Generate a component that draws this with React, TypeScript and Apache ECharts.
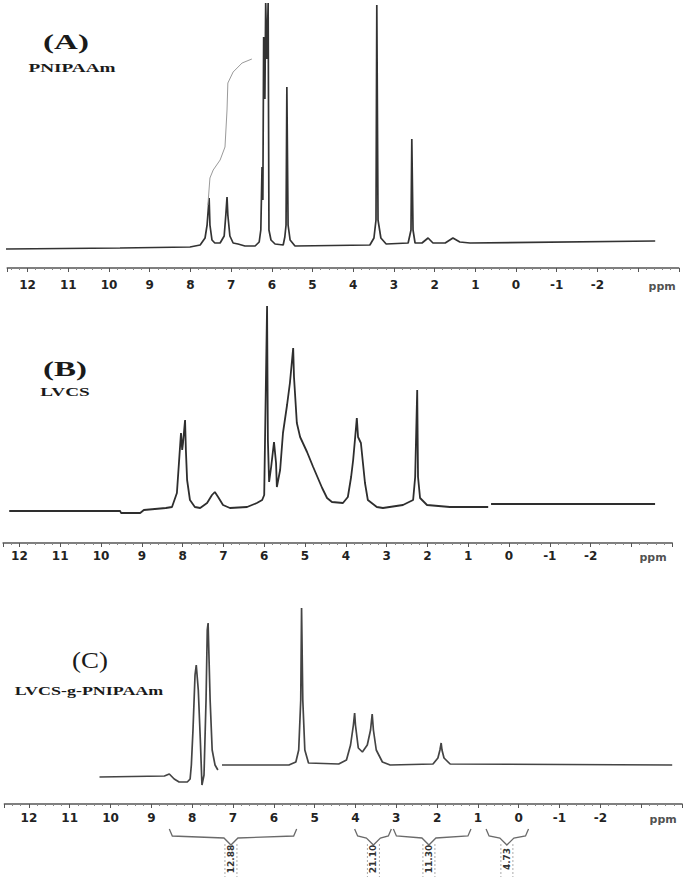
import React, { useEffect, useRef } from 'react';
import * as echarts from 'echarts';

// ---------- DATA (ppm, intensity above baseline) ----------
// (A) PNIPAAm
const specA: [number, number][] = [
  [12.55, 0], [9.73, 1], [8.01, 2], [7.76, 4], [7.64, 11], [7.59, 24], [7.54, 51], [7.52, 24], [7.47, 9],
  [7.40, 6], [7.27, 6], [7.17, 13], [7.13, 34], [7.10, 52], [7.08, 34], [7.03, 13], [6.95, 6], [6.83, 5],
  [6.66, 3], [6.41, 3], [6.31, 7], [6.27, 19], [6.24, 82], [6.22, 49], [6.20, 212], [6.17, 150], [6.15, 246],
  [6.12, 190], [6.09, 246], [6.07, 19], [6.02, 9], [5.92, 5], [5.72, 4], [5.68, 12], [5.65, 24], [5.63, 162],
  [5.60, 24], [5.55, 9], [5.43, 3], [3.59, 4], [3.49, 11], [3.44, 29], [3.42, 244], [3.39, 29], [3.32, 11],
  [3.19, 5], [2.65, 6], [2.58, 19], [2.56, 110], [2.53, 19], [2.48, 6], [2.31, 6], [2.16, 11], [2.04, 6],
  [1.74, 6], [1.55, 11], [1.38, 7], [1.13, 6], [-3.42, 8],
];
// (A) integration trace
const integA: [number, number][] = [
  [7.57, 44], [7.52, 71], [7.44, 79], [7.27, 89], [7.15, 102], [7.10, 139], [7.08, 166], [6.95, 177],
  [6.73, 186], [6.49, 190],
];
// (B) LVCS
const specB: ([number, number] | [number, string])[] = [
  [12.25, -1], [9.53, -1], [9.51, -3], [9.04, -3], [8.95, 0], [8.41, 2], [8.26, 3], [8.14, 17], [8.09, 47],
  [8.04, 77], [8.01, 60], [7.99, 67], [7.94, 90], [7.92, 60], [7.89, 30], [7.82, 10], [7.70, 3], [7.57, 2],
  [7.40, 7], [7.28, 15], [7.21, 18], [7.13, 13], [7.01, 5], [6.84, 2], [6.42, 3], [6.30, 5], [6.18, 7],
  [6.05, 10], [6.00, 15], [5.98, 70], [5.93, 204], [5.91, 70], [5.88, 28], [5.83, 43], [5.76, 68], [5.71, 47],
  [5.69, 23], [5.61, 40], [5.54, 77], [5.44, 105], [5.37, 127], [5.29, 162], [5.27, 133], [5.20, 87],
  [5.12, 73], [4.95, 58], [4.80, 43], [4.58, 22], [4.46, 12], [4.34, 8], [4.07, 7], [3.95, 13], [3.87, 33],
  [3.82, 50], [3.77, 73], [3.73, 92], [3.70, 73], [3.63, 67], [3.58, 47], [3.53, 27], [3.46, 10], [3.24, 3],
  [3.09, 2], [2.60, 5], [2.35, 10], [2.30, 33], [2.25, 120], [2.23, 33], [2.18, 12], [2.01, 5], [1.45, 3],
  [0.51, 3], [0.48, '-'], [0.44, 6], [-3.58, 6],
];
// (C) LVCS-g-PNIPAAm
const specC: ([number, number] | [number, string])[] = [
  [10.27, -12], [8.68, -11], [8.56, -9], [8.44, -14], [8.32, -17], [8.12, -17], [8.05, -14], [8.02, 0],
  [7.98, 35], [7.93, 90], [7.90, 100], [7.85, 75], [7.80, 25], [7.76, -20], [7.71, -10], [7.66, 65],
  [7.63, 135], [7.61, 142], [7.56, 65], [7.51, 15], [7.44, 0], [7.37, -5], [7.32, '-'], [7.27, 0],
  [5.63, 0], [5.46, 3], [5.39, 15], [5.34, 65], [5.32, 157], [5.29, 65], [5.24, 15], [5.15, 2], [4.41, 1],
  [4.22, 5], [4.12, 20], [4.05, 40], [4.02, 52], [4.00, 40], [3.93, 17], [3.83, 13], [3.71, 20], [3.63, 35],
  [3.59, 51], [3.56, 35], [3.49, 15], [3.34, 3], [3.15, 0], [2.10, 1], [1.98, 7], [1.93, 15], [1.90, 22],
  [1.88, 15], [1.83, 7], [1.68, 1], [-3.76, 0],
];
// integration brackets (C): [start ppm, end ppm, centre ppm, value]
const integC: [number, number, number, number][] = [
  [8.56, 5.44, 7.05, 12.88],
  [4.02, 3.12, 3.56, 21.10],
  [3.07, 1.17, 2.2, 11.30],
  [0.8, -0.24, 0.29, 4.73],
];
const tickLabels = ['12', '11', '10', '9', '8', '7', '6', '5', '4', '3', '2', '1', '0', '-1', '-2'];
const unitLabel = 'ppm';
const panelTags = ['(A)', '(B)', '(C)'];
const sampleNames = ['PNIPAAm', 'LVCS', 'LVCS-g-PNIPAAm'];

// ---------- layout ----------
const panels = [
  { left: 7.25, right: 6.2, top: 0, height: 250, xmin: -4, xmax: 12.5, ymin: -1, ymax: 249, offset: 18, margin: 11, color: '#333', unit: [-3.59, -37] },
  { left: 3.1, right: 12.8, top: 290, height: 230, xmin: -4, xmax: 12.4, ymin: -10, ymax: 220, offset: 23, margin: 7, color: '#2e2e2e', unit: [-3.53, -47] },
  { left: 4.4, right: 0, top: 590, height: 200, xmin: -4, xmax: 12.6, ymin: -25, ymax: 175, offset: 14, margin: 8, color: '#444', unit: [-3.54, -54] },
];

const serif = '"Liberation Serif", "DejaVu Serif", serif';
const sans = '"DejaVu Sans", "Liberation Sans", sans-serif';

export default function App() {
  const ref = useRef<HTMLDivElement>(null);
  useEffect(() => {
    if (!ref.current) return;
    const chart = echarts.init(ref.current, null, { renderer: 'svg' });

    const grid = panels.map((p) => ({ left: p.left, right: p.right, top: p.top, height: p.height }));
    const xAxis = panels.map((p, i) => ({
      type: 'value', gridIndex: i, inverse: true, min: p.xmin, max: p.xmax, interval: 1,
      position: 'bottom', offset: p.offset,
      axisLine: { show: true, onZero: false, lineStyle: { color: '#555', width: 1.6 } },
      axisTick: { show: true, length: 4, lineStyle: { color: '#555', width: 1 } },
      minorTick: { show: true, splitNumber: 5, length: 2, lineStyle: { color: '#888', width: 1 } },
      splitLine: { show: false },
      minorSplitLine: { show: false },
      axisLabel: {
        margin: p.margin, fontFamily: sans, fontWeight: 'bold', fontSize: 12, color: '#222',
        showMinLabel: true, showMaxLabel: true,
        formatter: (v: number) => (tickLabels.includes(String(v)) ? String(v) : ''),
      },
    }));
    const yAxis = panels.map((p, i) => ({ type: 'value', gridIndex: i, min: p.ymin, max: p.ymax, show: false }));

    const lineSeries = (data: any[], i: number, color: string, width: number) => ({
      type: 'line', xAxisIndex: i, yAxisIndex: i, data, showSymbol: false, symbol: 'none',
      connectNulls: false, silent: true,
      lineStyle: { color, width }, z: 3,
    });

    const unitSeries = panels.map((p, i) => ({
      type: 'scatter', xAxisIndex: i, yAxisIndex: i, clip: false, silent: true,
      symbolSize: 1, itemStyle: { color: 'rgba(0,0,0,0)' },
      data: [p.unit],
      label: { show: true, position: 'inside', formatter: unitLabel, fontFamily: sans, fontWeight: 'bold', fontSize: 11, color: '#222' },
    }));

    const bracketSeries = {
      type: 'custom', xAxisIndex: 2, yAxisIndex: 2, clip: false, silent: true,
      data: integC,
      renderItem: (_params: any, api: any) => {
        const x1 = api.coord([api.value(0), 0])[0];
        const x2 = api.coord([api.value(1), 0])[0];
        const xm = api.coord([api.value(2), 0])[0];
        const yb = api.coord([0, 0])[1];
        const t = yb + 64;
        const pts = [[x1, t], [x1 + 3, t + 7], [xm - 7, t + 9], [xm, t + 16], [xm + 7, t + 9], [x2 - 3, t + 7], [x2, t]];
        return {
          type: 'group',
          children: [
            { type: 'polyline', shape: { points: pts }, style: { stroke: '#6a6a6a', fill: null, lineWidth: 1.3 } },
            { type: 'line', shape: { x1: xm - 6, y1: t + 15, x2: xm - 6, y2: yb + 112 }, style: { stroke: '#aaa', lineWidth: 1, lineDash: [2, 2] } },
            { type: 'line', shape: { x1: xm + 6, y1: t + 15, x2: xm + 6, y2: yb + 112 }, style: { stroke: '#aaa', lineWidth: 1, lineDash: [2, 2] } },
            {
              type: 'text', x: xm, y: t + 30, rotation: Math.PI / 2,
              style: {
                text: Number(api.value(3)).toFixed(2), fill: '#333', font: `bold 9px ${sans}`,
                align: 'center', verticalAlign: 'middle', textAlign: 'center', textVerticalAlign: 'middle',
              },
            },
          ],
        };
      },
    };

    const labelPos = [
      { tag: [66, 42, 22, 1.5, 'bold'], name: [72, 68, 13, 1.48] },
      { tag: [65, 369, 22, 1.5, 'bold'], name: [65, 392, 13, 1.48] },
      { tag: [90, 660, 24, 1.12, 'normal'], name: [89, 690, 13, 1.38] },
    ];
    const graphic: any[] = [];
    labelPos.forEach((lp, i) => {
      const [tx, ty, tf, ts, tw] = lp.tag as any;
      const [nx, ny, nf, ns] = lp.name as any;
      graphic.push({
        type: 'text', x: tx, y: ty, scaleX: ts, silent: true,
        style: { text: panelTags[i], font: `${tw} ${tf}px ${serif}`, fill: '#1a1a1a', align: 'center', verticalAlign: 'middle', textAlign: 'center', textVerticalAlign: 'middle' },
      });
      graphic.push({
        type: 'text', x: nx, y: ny, scaleX: ns, silent: true,
        style: { text: sampleNames[i], font: `bold ${nf}px ${serif}`, fill: '#1a1a1a', align: 'center', verticalAlign: 'middle', textAlign: 'center', textVerticalAlign: 'middle' },
      });
    });

    chart.setOption({
      animation: false,
      backgroundColor: '#ffffff',
      grid, xAxis, yAxis,
      graphic,
      series: [
        lineSeries(specA, 0, panels[0].color, 1.7),
        lineSeries(integA, 0, '#9a9a9a', 1),
        lineSeries(specB, 1, panels[1].color, 1.8),
        lineSeries(specC, 2, panels[2].color, 1.7),
        ...unitSeries,
        bracketSeries,
      ],
    });
    return () => chart.dispose();
  }, []);
  return <div ref={ref} style={{ position: 'fixed', left: 0, top: 0, width: 685, height: 877, background: '#fff' }} />;
}
